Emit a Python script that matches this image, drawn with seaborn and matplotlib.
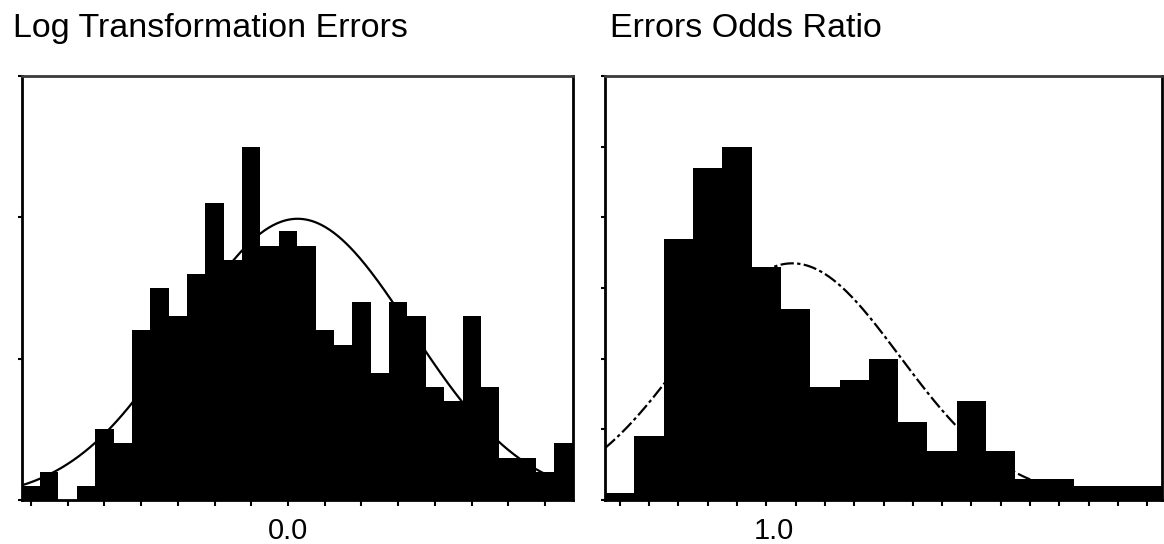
import matplotlib

matplotlib.use("Agg")
import matplotlib.pyplot as plt
import numpy as np
import pandas as pd
import seaborn as sns
from matplotlib.ticker import FixedLocator

TITLE_FONT_SIZE: float = 24.5
TICK_FONT_SIZE: float = 21
FONT_FAMILY = ["Liberation Sans", "DejaVu Sans"]

# Left panel: log transformation errors, 30 bins of width 0.05
LOG_TITLE = "Log Transformation Errors"
LOG_BIN_START = -0.725
LOG_BIN_WIDTH = 0.05
LOG_COUNTS = [1, 2, 0, 1, 5, 4, 12, 15, 13, 16, 21, 17, 25, 18, 19,
              18, 12, 11, 14, 9, 14, 13, 8, 7, 13, 8, 3, 3, 2, 4]
LOG_TICK_VALUE = 0.0
LOG_TICK_LABEL = "0.0"
LOG_YMAX = 30

# Right panel: errors odds ratio, 19 bins of width 0.1
ODDS_TITLE = "Errors Odds Ratio"
ODDS_BIN_START = 0.425
ODDS_BIN_WIDTH = 0.1
ODDS_COUNTS = [1, 9, 37, 47, 50, 33, 27, 16, 17, 20, 11, 7, 14, 7, 3, 3, 2, 2, 2]
ODDS_TICK_VALUE = 1.0
ODDS_TICK_LABEL = "1.0"
ODDS_YMAX = 60


def draw_panel(ax, counts, start, width, tick_value, tick_label, ymax,
               minor_every, curve_style):
    counts = np.asarray(counts, dtype=float)
    edges = start + width * np.arange(len(counts) + 1)
    centers = (edges[:-1] + edges[1:]) / 2
    df = pd.DataFrame({"center": centers, "count": counts})

    sns.histplot(
        data=df,
        x="center",
        weights="count",
        bins=list(edges),
        stat="count",
        color="black",
        alpha=1,
        edgecolor="none",
        ax=ax,
    )

    # normal curve fitted to the binned data
    n = counts.sum()
    mean = (counts * centers).sum() / n
    sd = np.sqrt((counts * (centers - mean) ** 2).sum() / (n - 1))
    xs = np.linspace(edges[0], edges[-1], 400)
    ys = n * width * np.exp(-0.5 * ((xs - mean) / sd) ** 2) / (sd * np.sqrt(2 * np.pi))
    sns.lineplot(x=xs, y=ys, ax=ax, color="black", linewidth=1.6,
                 linestyle=curve_style)

    ax.set_xlim(edges[0], edges[-1])
    ax.set_ylim(0, ymax)
    ax.set_xlabel("")
    ax.set_ylabel("")

    ax.set_xticks([tick_value])
    ax.set_xticklabels([tick_label], fontsize=TICK_FONT_SIZE, family=FONT_FAMILY,
                       color="black")
    ax.xaxis.set_minor_locator(FixedLocator(centers[::minor_every]))
    ax.xaxis.remove_overlapping_locs = False
    ax.tick_params(axis="x", which="major", bottom=True, length=0, pad=12)
    ax.tick_params(axis="x", which="minor", bottom=True, length=4, width=1.5,
                   direction="out", color="black")

    ax.set_yticks(np.arange(0, ymax + 1, 10))
    ax.set_yticklabels([])
    ax.tick_params(axis="y", left=True, length=3, width=1.5, direction="out",
                   color="black")

    for side in ["left", "right", "bottom"]:
        ax.spines[side].set_color("black")
        ax.spines[side].set_linewidth(2)
    ax.spines["top"].set_color("#3a3a3a")
    ax.spines["top"].set_linewidth(2)


def main() -> None:
    sns.set_theme(style="white")
    plt.rcParams["font.family"] = FONT_FAMILY

    fig = plt.figure(figsize=(11.64, 5.44), dpi=100)
    ax_log = fig.add_axes([21.7 / 1164, 44 / 544, 551 / 1164, 424 / 544])
    ax_odds = fig.add_axes([605 / 1164, 44 / 544, 557 / 1164, 424 / 544])

    draw_panel(ax_log, LOG_COUNTS, LOG_BIN_START, LOG_BIN_WIDTH,
               LOG_TICK_VALUE, LOG_TICK_LABEL, LOG_YMAX, 2, "-")
    draw_panel(ax_odds, ODDS_COUNTS, ODDS_BIN_START, ODDS_BIN_WIDTH,
               ODDS_TICK_VALUE, ODDS_TICK_LABEL, ODDS_YMAX, 1,
               (0, (6, 1.5, 1.5, 1.5)))

    fig.text(13 / 1164, 1 - 36.7 / 544, LOG_TITLE, fontsize=TITLE_FONT_SIZE,
             ha="left", va="baseline", color="black")
    fig.text(610 / 1164, 1 - 36.7 / 544, ODDS_TITLE, fontsize=TITLE_FONT_SIZE,
             ha="left", va="baseline", color="black")

    fig.savefig("out.png", dpi=100, facecolor="white")
    plt.close(fig)


if __name__ == "__main__":
    main()
